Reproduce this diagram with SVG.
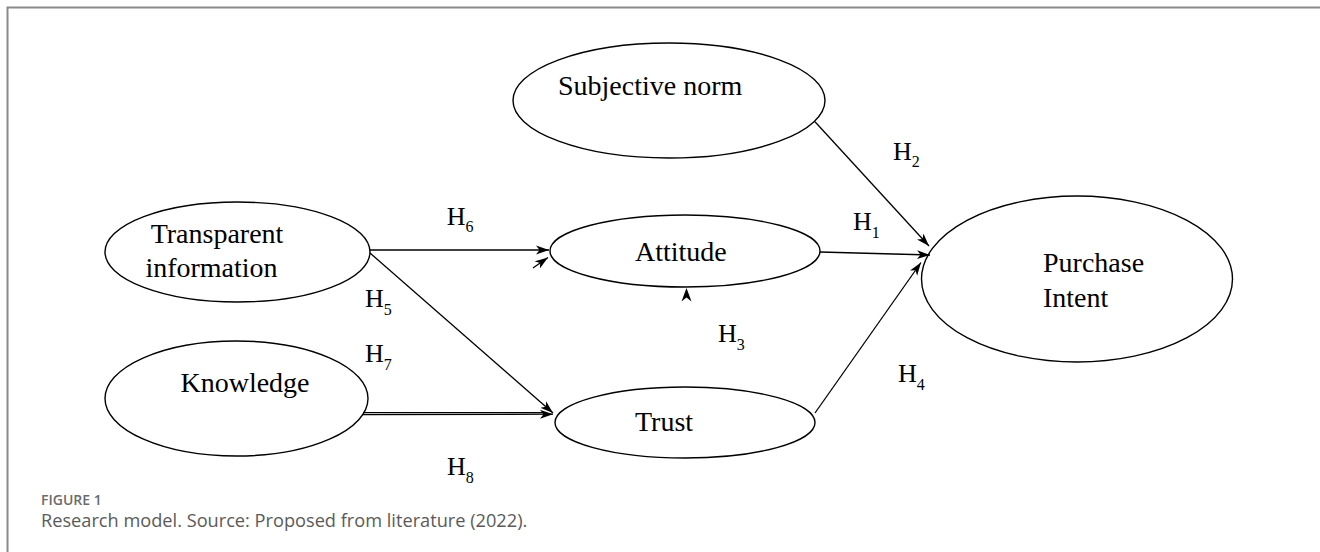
<svg xmlns="http://www.w3.org/2000/svg" width="1320" height="552" viewBox="0 0 1320 552">
<style>
.node ellipse{fill:#fff;stroke:#000;stroke-width:1.4}
.lbl{font-family:"Liberation Serif","Times New Roman",serif;font-size:28px;fill:#000}
.h{font-family:"Liberation Serif","Times New Roman",serif;font-size:26px;fill:#000}
.sub{font-size:16px}
.conn line{stroke:#000;stroke-width:1.3;fill:none}
.cap1{font-family:"Open Sans","Liberation Sans",sans-serif;font-size:14px;font-weight:600;fill:#6b6b6b}
.cap2{font-family:"Open Sans","Liberation Sans",sans-serif;font-size:18.2px;fill:#5a5a5a}
</style>
<defs>
<marker id="ah" markerUnits="userSpaceOnUse" markerWidth="14" markerHeight="10" refX="13" refY="5" orient="auto">
<path d="M0,0.6 L13,5 L0,9.4 L3.5,5 Z" fill="#000"/>
</marker>
</defs>
<rect width="1320" height="552" fill="#fff"/>
<path d="M7.5,552 V7.5 H1320" fill="none" stroke="#8a8a8a" stroke-width="2"/>

<g id="subjective-norm" class="node">
<ellipse cx="669" cy="100.5" rx="156" ry="57.5"/>
<text class="lbl" x="558" y="95">Subjective norm</text>
</g>
<g id="transparent-information" class="node">
<ellipse cx="237.5" cy="252" rx="132.5" ry="50"/>
<text class="lbl" x="217" y="243.3" text-anchor="middle">Transparent</text>
<text class="lbl" x="211.5" y="277" text-anchor="middle">information</text>
</g>
<g id="knowledge" class="node">
<ellipse cx="236.5" cy="398.5" rx="131.5" ry="57.5"/>
<text class="lbl" x="245" y="391.7" text-anchor="middle">Knowledge</text>
</g>
<g id="attitude" class="node">
<ellipse cx="685" cy="251" rx="135" ry="36"/>
<text class="lbl" x="635" y="260.7">Attitude</text>
</g>
<g id="trust" class="node">
<ellipse cx="685" cy="422.5" rx="130" ry="35.5"/>
<text class="lbl" x="635" y="430.7">Trust</text>
</g>
<g id="purchase-intent" class="node">
<ellipse cx="1077" cy="279" rx="155.5" ry="83"/>
<text class="lbl" x="1043" y="271.7">Purchase</text>
<text class="lbl" x="1043" y="306.7">Intent</text>
</g>

<g id="connectors" class="conn">
<line x1="815" y1="121.7" x2="929" y2="246" marker-end="url(#ah)"/>
<line x1="820" y1="252" x2="930" y2="255" marker-end="url(#ah)"/>
<line x1="815" y1="413" x2="921" y2="262.5" marker-end="url(#ah)"/>
<line x1="370" y1="250" x2="549" y2="250" marker-end="url(#ah)"/>
<line x1="533" y1="268" x2="548" y2="257.5" marker-end="url(#ah)"/>
<line x1="370" y1="253" x2="553" y2="413" marker-end="url(#ah)"/>
<line x1="363" y1="412.6" x2="545" y2="412.6"/>
<line x1="363" y1="414.6" x2="553" y2="414.2" marker-end="url(#ah)"/>
<path d="M686.5,288 L691.5,301.5 L686.5,297.5 L681.5,301.5 Z" fill="#000"/>
</g>

<g id="labels">
<text class="h" x="893" y="160">H<tspan class="sub" dy="7">2</tspan></text>
<text class="h" x="853" y="230">H<tspan class="sub" dy="8">1</tspan></text>
<text class="h" x="446.7" y="225">H<tspan class="sub" dy="7">6</tspan></text>
<text class="h" x="365" y="306.7">H<tspan class="sub" dy="8">5</tspan></text>
<text class="h" x="365" y="361.7">H<tspan class="sub" dy="8">7</tspan></text>
<text class="h" x="718" y="341.7">H<tspan class="sub" dy="8">3</tspan></text>
<text class="h" x="898" y="382">H<tspan class="sub" dy="8">4</tspan></text>
<text class="h" x="447" y="475">H<tspan class="sub" dy="8">8</tspan></text>
</g>

<text class="cap1" x="41" y="505">FIGURE 1</text>
<text class="cap2" x="41" y="527">Research model. Source: Proposed from literature (2022).</text>
</svg>
